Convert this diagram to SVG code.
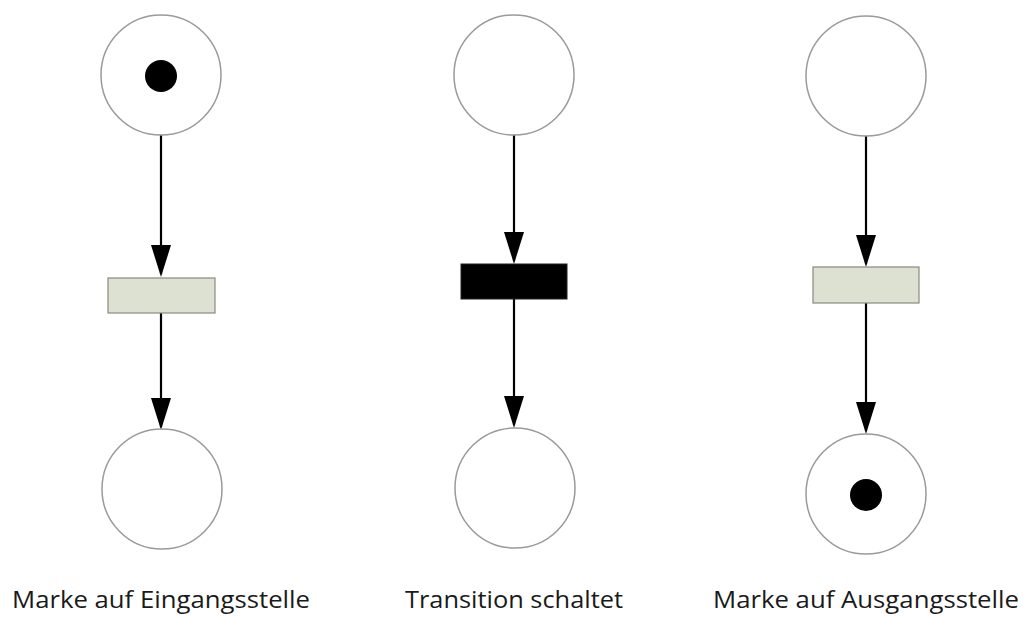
<svg xmlns="http://www.w3.org/2000/svg" width="1023" height="617" viewBox="0 0 1023 617">
<style>
.place{fill:#fff;stroke:#9a9a9a;stroke-width:1.5}
.token{fill:#000}
.trans{fill:#dde1d2;stroke:#8a8a80;stroke-width:1.2}
.fired{fill:#000;stroke:#222;stroke-width:1}
.arc{stroke:#000;stroke-width:2.2;fill:none;marker-end:url(#ah)}
.lbl{font-family:"Open Sans","Noto Sans",sans-serif;font-size:24px;fill:#1a1a1a}
</style>
<defs>
<marker id="ah" markerUnits="userSpaceOnUse" viewBox="0 0 32 20" refX="29" refY="10" markerWidth="32" markerHeight="20" orient="auto">
<path d="M0,0 L32,10 L0,20 Z" fill="#000"/>
</marker>
</defs>
<g id="connectors">
<line class="arc" x1="161" y1="135" x2="161" y2="274"/>
<line class="arc" x1="161" y1="313" x2="161" y2="427"/>
<line class="arc" x1="514" y1="135" x2="514" y2="261"/>
<line class="arc" x1="514" y1="299" x2="514" y2="425"/>
<line class="arc" x1="866" y1="136" x2="866" y2="264"/>
<line class="arc" x1="866" y1="303" x2="866" y2="431"/>
</g>
<g id="p1-in"><circle class="place" cx="161" cy="75" r="60"/><circle class="token" cx="161" cy="76" r="16"/></g>
<g id="t1"><rect class="trans" x="108" y="278" width="107" height="35"/></g>
<g id="p1-out"><circle class="place" cx="162" cy="489" r="60"/></g>
<g id="p2-in"><circle class="place" cx="514" cy="75" r="60"/></g>
<g id="t2"><rect class="fired" x="461" y="264" width="106" height="35"/></g>
<g id="p2-out"><circle class="place" cx="515" cy="488" r="60"/></g>
<g id="p3-in"><circle class="place" cx="866" cy="76" r="60"/></g>
<g id="t3"><rect class="trans" x="813" y="267" width="106" height="36"/></g>
<g id="p3-out"><circle class="place" cx="866" cy="494" r="60"/><circle class="token" cx="866" cy="495" r="16"/></g>
<g id="labels">
<text class="lbl" x="12" y="608" textLength="298" lengthAdjust="spacingAndGlyphs">Marke auf Eingangsstelle</text>
<text class="lbl" x="405" y="608" textLength="218" lengthAdjust="spacingAndGlyphs">Transition schaltet</text>
<text class="lbl" x="713" y="608" textLength="306" lengthAdjust="spacingAndGlyphs">Marke auf Ausgangsstelle</text>
</g>
</svg>
